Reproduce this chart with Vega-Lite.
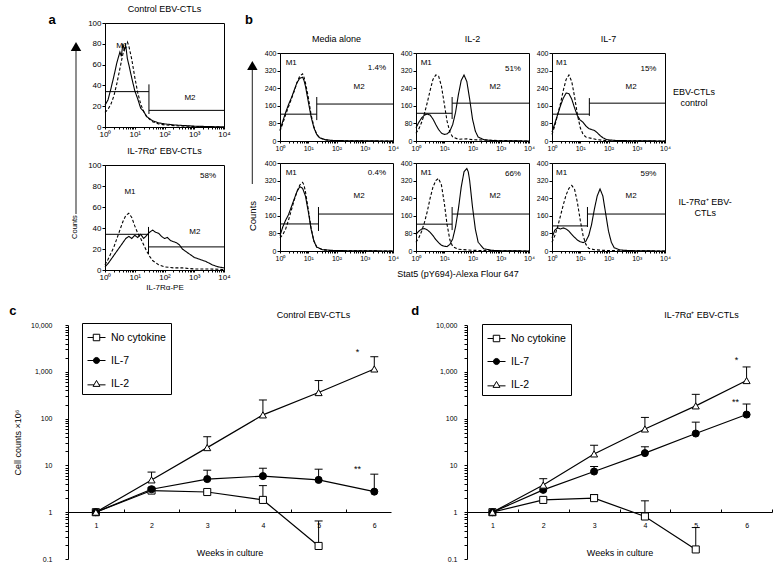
{
"$schema": "https://vega.github.io/schema/vega-lite/v6.json",
"padding": {"left": 9, "top": 4, "right": 0, "bottom": 0},
"bounds": "flush",
"spacing": 302,
"config": {
 "font": "Liberation Sans",
 "view": {"stroke": "black", "strokeWidth": 1},
 "axis": {"domainColor": "black", "tickColor": "black", "labelColor": "black", "titleColor": "black", "grid": false, "titleFontWeight": "normal", "domainWidth": 1, "tickWidth": 1},
 "title": {"fontWeight": "normal", "fontSize": 9, "color": "black"},
 "header": {"labelColor": "black", "titleColor": "black"},
 "text": {"color": "black"}
},
"datasets": {
 "a1": [
  {"k":"s","x":1,"y":21},{"k":"s","x":1.259,"y":26},{"k":"s","x":1.585,"y":37},{"k":"s","x":1.995,"y":49},{"k":"s","x":2.512,"y":62},{"k":"s","x":3.162,"y":72},{"k":"s","x":3.548,"y":68},{"k":"s","x":3.981,"y":80},{"k":"s","x":4.467,"y":74},{"k":"s","x":5.012,"y":78},{"k":"s","x":5.623,"y":66},{"k":"s","x":6.31,"y":60},{"k":"s","x":7.943,"y":47},{"k":"s","x":10,"y":35},{"k":"s","x":12.59,"y":27},{"k":"s","x":15.85,"y":18},{"k":"s","x":19.95,"y":15},{"k":"s","x":25.12,"y":10},{"k":"s","x":31.62,"y":8},{"k":"s","x":39.81,"y":6},{"k":"s","x":63.1,"y":4},{"k":"s","x":100,"y":3},{"k":"s","x":199.5,"y":2},{"k":"s","x":398.1,"y":1.5},{"k":"s","x":1000,"y":0.8},{"k":"s","x":3162,"y":0.4},{"k":"s","x":10000,"y":0},
  {"k":"d","x":1,"y":14},{"k":"d","x":1.259,"y":17},{"k":"d","x":1.585,"y":22},{"k":"d","x":1.995,"y":30},{"k":"d","x":2.512,"y":42},{"k":"d","x":3.162,"y":56},{"k":"d","x":3.981,"y":70},{"k":"d","x":5.012,"y":80},{"k":"d","x":5.623,"y":82},{"k":"d","x":6.31,"y":78},{"k":"d","x":7.943,"y":65},{"k":"d","x":10,"y":48},{"k":"d","x":12.59,"y":33},{"k":"d","x":15.85,"y":22},{"k":"d","x":19.95,"y":15},{"k":"d","x":25.12,"y":10},{"k":"d","x":39.81,"y":5},{"k":"d","x":63.1,"y":3},{"k":"d","x":100,"y":2},{"k":"d","x":316.2,"y":1},{"k":"d","x":1000,"y":0.5},{"k":"d","x":10000,"y":0},
  {"k":"h","x":1,"x2":30,"y":34},{"k":"h","x":30,"x2":10000,"y":16},{"k":"v","x":30,"y":12.5,"y2":41},
  {"k":"t","x":3.7,"y":78,"t":"M1"},{"k":"t","x":720,"y":28,"t":"M2"}
 ],
 "a2": [
  {"k":"s","x":1,"y":3},{"k":"s","x":1.259,"y":6},{"k":"s","x":1.585,"y":10},{"k":"s","x":1.995,"y":14},{"k":"s","x":2.512,"y":18},{"k":"s","x":3.162,"y":22},{"k":"s","x":3.981,"y":26},{"k":"s","x":5.012,"y":30},{"k":"s","x":6.31,"y":32},{"k":"s","x":7.943,"y":30},{"k":"s","x":10,"y":33},{"k":"s","x":12.59,"y":31},{"k":"s","x":15.85,"y":34},{"k":"s","x":19.95,"y":30},{"k":"s","x":25.12,"y":33},{"k":"s","x":31.62,"y":36},{"k":"s","x":39.81,"y":38},{"k":"s","x":50.12,"y":36},{"k":"s","x":63.1,"y":35},{"k":"s","x":79.43,"y":32},{"k":"s","x":100,"y":30},{"k":"s","x":125.9,"y":31},{"k":"s","x":158.5,"y":28},{"k":"s","x":199.5,"y":27},{"k":"s","x":251.2,"y":26},{"k":"s","x":316.2,"y":24},{"k":"s","x":398.1,"y":20},{"k":"s","x":501.2,"y":18},{"k":"s","x":631,"y":16},{"k":"s","x":794.3,"y":14},{"k":"s","x":1000,"y":12},{"k":"s","x":1585,"y":10},{"k":"s","x":2512,"y":8},{"k":"s","x":3981,"y":5},{"k":"s","x":6310,"y":3},{"k":"s","x":10000,"y":2},
  {"k":"d","x":1,"y":5},{"k":"d","x":1.259,"y":10},{"k":"d","x":1.585,"y":16},{"k":"d","x":1.995,"y":22},{"k":"d","x":2.512,"y":30},{"k":"d","x":3.162,"y":38},{"k":"d","x":3.981,"y":46},{"k":"d","x":5.012,"y":52},{"k":"d","x":6.31,"y":54},{"k":"d","x":7.943,"y":50},{"k":"d","x":10,"y":42},{"k":"d","x":12.59,"y":35},{"k":"d","x":15.85,"y":30},{"k":"d","x":19.95,"y":24},{"k":"d","x":25.12,"y":18},{"k":"d","x":31.62,"y":13},{"k":"d","x":39.81,"y":9},{"k":"d","x":63.1,"y":5},{"k":"d","x":100,"y":3},{"k":"d","x":199.5,"y":2},{"k":"d","x":398.1,"y":2},{"k":"d","x":1000,"y":1},{"k":"d","x":3162,"y":1},{"k":"d","x":10000,"y":0.5},
  {"k":"h","x":1,"x2":29,"y":34},{"k":"h","x":29,"x2":10000,"y":22},{"k":"v","x":29,"y":15,"y2":41},
  {"k":"t","x":6.9,"y":74,"t":"M1"},{"k":"t","x":1050,"y":36,"t":"M2"},{"k":"t","x":2900,"y":90,"t":"58%"}
 ],
 "b": [
  {"k":"s","r":1,"c":1,"x":1,"y":50},{"k":"s","r":1,"c":1,"x":1.259,"y":90},{"k":"s","r":1,"c":1,"x":1.585,"y":130},{"k":"s","r":1,"c":1,"x":1.995,"y":165},{"k":"s","r":1,"c":1,"x":2.512,"y":195},{"k":"s","r":1,"c":1,"x":3.162,"y":230},{"k":"s","r":1,"c":1,"x":3.981,"y":265},{"k":"s","r":1,"c":1,"x":5.012,"y":285},{"k":"s","r":1,"c":1,"x":6.31,"y":290},{"k":"s","r":1,"c":1,"x":7.079,"y":275},{"k":"s","r":1,"c":1,"x":7.943,"y":250},{"k":"s","r":1,"c":1,"x":10,"y":180},{"k":"s","r":1,"c":1,"x":12.59,"y":110},{"k":"s","r":1,"c":1,"x":15.85,"y":60},{"k":"s","r":1,"c":1,"x":19.95,"y":30},{"k":"s","r":1,"c":1,"x":25.12,"y":15},{"k":"s","r":1,"c":1,"x":39.81,"y":6},{"k":"s","r":1,"c":1,"x":63.1,"y":3},{"k":"s","r":1,"c":1,"x":100,"y":2},{"k":"s","r":1,"c":1,"x":316.2,"y":1},{"k":"s","r":1,"c":1,"x":10000,"y":0},
  {"k":"d","r":1,"c":1,"x":1,"y":45},{"k":"d","r":1,"c":1,"x":1.259,"y":80},{"k":"d","r":1,"c":1,"x":1.585,"y":120},{"k":"d","r":1,"c":1,"x":1.995,"y":155},{"k":"d","r":1,"c":1,"x":2.512,"y":190},{"k":"d","r":1,"c":1,"x":3.162,"y":225},{"k":"d","r":1,"c":1,"x":3.981,"y":265},{"k":"d","r":1,"c":1,"x":5.012,"y":295},{"k":"d","r":1,"c":1,"x":6.31,"y":305},{"k":"d","r":1,"c":1,"x":7.079,"y":290},{"k":"d","r":1,"c":1,"x":7.943,"y":265},{"k":"d","r":1,"c":1,"x":10,"y":200},{"k":"d","r":1,"c":1,"x":12.59,"y":120},{"k":"d","r":1,"c":1,"x":15.85,"y":65},{"k":"d","r":1,"c":1,"x":19.95,"y":30},{"k":"d","r":1,"c":1,"x":25.12,"y":14},{"k":"d","r":1,"c":1,"x":39.81,"y":5},{"k":"d","r":1,"c":1,"x":63.1,"y":2},{"k":"d","r":1,"c":1,"x":100,"y":1},{"k":"d","r":1,"c":1,"x":316.2,"y":0.5},{"k":"d","r":1,"c":1,"x":10000,"y":0},
  {"k":"h","r":1,"c":1,"x":1,"x2":20,"y":122},{"k":"h","r":1,"c":1,"x":20,"x2":10000,"y":168},{"k":"v","r":1,"c":1,"x":20,"y":95,"y2":200},
  {"k":"t","r":1,"c":1,"x":2.5,"y":355,"t":"M1"},{"k":"t","r":1,"c":1,"x":630,"y":245,"t":"M2"},{"k":"t","r":1,"c":1,"x":2700,"y":333,"t":"1.4%"},
  {"k":"s","r":1,"c":2,"x":1,"y":60},{"k":"s","r":1,"c":2,"x":1.259,"y":85},{"k":"s","r":1,"c":2,"x":1.585,"y":105},{"k":"s","r":1,"c":2,"x":1.995,"y":118},{"k":"s","r":1,"c":2,"x":2.512,"y":122},{"k":"s","r":1,"c":2,"x":3.162,"y":118},{"k":"s","r":1,"c":2,"x":3.981,"y":100},{"k":"s","r":1,"c":2,"x":5.012,"y":75},{"k":"s","r":1,"c":2,"x":6.31,"y":52},{"k":"s","r":1,"c":2,"x":7.943,"y":36},{"k":"s","r":1,"c":2,"x":10,"y":30},{"k":"s","r":1,"c":2,"x":12.59,"y":32},{"k":"s","r":1,"c":2,"x":15.85,"y":45},{"k":"s","r":1,"c":2,"x":19.95,"y":75},{"k":"s","r":1,"c":2,"x":25.12,"y":130},{"k":"s","r":1,"c":2,"x":31.62,"y":210},{"k":"s","r":1,"c":2,"x":39.81,"y":275},{"k":"s","r":1,"c":2,"x":50.12,"y":300},{"k":"s","r":1,"c":2,"x":63.1,"y":270},{"k":"s","r":1,"c":2,"x":79.43,"y":190},{"k":"s","r":1,"c":2,"x":100,"y":100},{"k":"s","r":1,"c":2,"x":125.9,"y":45},{"k":"s","r":1,"c":2,"x":158.5,"y":18},{"k":"s","r":1,"c":2,"x":251.2,"y":6},{"k":"s","r":1,"c":2,"x":501.2,"y":2},{"k":"s","r":1,"c":2,"x":1000,"y":1},{"k":"s","r":1,"c":2,"x":10000,"y":0},
  {"k":"d","r":1,"c":2,"x":1,"y":35},{"k":"d","r":1,"c":2,"x":1.259,"y":55},{"k":"d","r":1,"c":2,"x":1.585,"y":85},{"k":"d","r":1,"c":2,"x":1.995,"y":125},{"k":"d","r":1,"c":2,"x":2.512,"y":175},{"k":"d","r":1,"c":2,"x":3.162,"y":230},{"k":"d","r":1,"c":2,"x":3.981,"y":280},{"k":"d","r":1,"c":2,"x":5.012,"y":300},{"k":"d","r":1,"c":2,"x":6.31,"y":295},{"k":"d","r":1,"c":2,"x":7.943,"y":250},{"k":"d","r":1,"c":2,"x":10,"y":170},{"k":"d","r":1,"c":2,"x":12.59,"y":90},{"k":"d","r":1,"c":2,"x":15.85,"y":40},{"k":"d","r":1,"c":2,"x":19.95,"y":18},{"k":"d","r":1,"c":2,"x":31.62,"y":8},{"k":"d","r":1,"c":2,"x":63.1,"y":10},{"k":"d","r":1,"c":2,"x":100,"y":6},{"k":"d","r":1,"c":2,"x":316.2,"y":4},{"k":"d","r":1,"c":2,"x":1000,"y":2},{"k":"d","r":1,"c":2,"x":10000,"y":0},
  {"k":"h","r":1,"c":2,"x":1,"x2":19,"y":126},{"k":"h","r":1,"c":2,"x":19,"x2":10000,"y":172},{"k":"v","r":1,"c":2,"x":19,"y":100,"y2":200},
  {"k":"t","r":1,"c":2,"x":2.3,"y":355,"t":"M1"},{"k":"t","r":1,"c":2,"x":630,"y":245,"t":"M2"},{"k":"t","r":1,"c":2,"x":2700,"y":328,"t":"51%"},
  {"k":"s","r":1,"c":3,"x":1,"y":40},{"k":"s","r":1,"c":3,"x":1.259,"y":80},{"k":"s","r":1,"c":3,"x":1.585,"y":120},{"k":"s","r":1,"c":3,"x":1.995,"y":160},{"k":"s","r":1,"c":3,"x":2.512,"y":195},{"k":"s","r":1,"c":3,"x":3.162,"y":218},{"k":"s","r":1,"c":3,"x":3.981,"y":215},{"k":"s","r":1,"c":3,"x":5.012,"y":190},{"k":"s","r":1,"c":3,"x":6.31,"y":150},{"k":"s","r":1,"c":3,"x":7.943,"y":115},{"k":"s","r":1,"c":3,"x":10,"y":95},{"k":"s","r":1,"c":3,"x":12.59,"y":85},{"k":"s","r":1,"c":3,"x":15.85,"y":68},{"k":"s","r":1,"c":3,"x":19.95,"y":57},{"k":"s","r":1,"c":3,"x":25.12,"y":52},{"k":"s","r":1,"c":3,"x":31.62,"y":48},{"k":"s","r":1,"c":3,"x":39.81,"y":38},{"k":"s","r":1,"c":3,"x":50.12,"y":25},{"k":"s","r":1,"c":3,"x":63.1,"y":15},{"k":"s","r":1,"c":3,"x":79.43,"y":8},{"k":"s","r":1,"c":3,"x":100,"y":5},{"k":"s","r":1,"c":3,"x":199.5,"y":2},{"k":"s","r":1,"c":3,"x":1000,"y":1},{"k":"s","r":1,"c":3,"x":10000,"y":0},
  {"k":"d","r":1,"c":3,"x":1,"y":30},{"k":"d","r":1,"c":3,"x":1.259,"y":70},{"k":"d","r":1,"c":3,"x":1.585,"y":120},{"k":"d","r":1,"c":3,"x":1.995,"y":170},{"k":"d","r":1,"c":3,"x":2.512,"y":230},{"k":"d","r":1,"c":3,"x":3.162,"y":280},{"k":"d","r":1,"c":3,"x":3.981,"y":300},{"k":"d","r":1,"c":3,"x":5.012,"y":270},{"k":"d","r":1,"c":3,"x":6.31,"y":200},{"k":"d","r":1,"c":3,"x":7.943,"y":120},{"k":"d","r":1,"c":3,"x":10,"y":60},{"k":"d","r":1,"c":3,"x":12.59,"y":30},{"k":"d","r":1,"c":3,"x":15.85,"y":18},{"k":"d","r":1,"c":3,"x":25.12,"y":12},{"k":"d","r":1,"c":3,"x":39.81,"y":6},{"k":"d","r":1,"c":3,"x":63.1,"y":3},{"k":"d","r":1,"c":3,"x":100,"y":1},{"k":"d","r":1,"c":3,"x":10000,"y":0},
  {"k":"h","r":1,"c":3,"x":1,"x2":21,"y":122},{"k":"h","r":1,"c":3,"x":21,"x2":10000,"y":172},{"k":"v","r":1,"c":3,"x":21,"y":114,"y2":195},
  {"k":"t","r":1,"c":3,"x":2.2,"y":355,"t":"M1"},{"k":"t","r":1,"c":3,"x":630,"y":245,"t":"M2"},{"k":"t","r":1,"c":3,"x":2600,"y":328,"t":"15%"},
  {"k":"s","r":2,"c":1,"x":1,"y":70},{"k":"s","r":2,"c":1,"x":1.259,"y":110},{"k":"s","r":2,"c":1,"x":1.585,"y":140},{"k":"s","r":2,"c":1,"x":1.995,"y":165},{"k":"s","r":2,"c":1,"x":2.512,"y":200},{"k":"s","r":2,"c":1,"x":3.162,"y":235},{"k":"s","r":2,"c":1,"x":3.981,"y":270},{"k":"s","r":2,"c":1,"x":5.012,"y":292},{"k":"s","r":2,"c":1,"x":6.31,"y":285},{"k":"s","r":2,"c":1,"x":7.943,"y":250},{"k":"s","r":2,"c":1,"x":10,"y":180},{"k":"s","r":2,"c":1,"x":12.59,"y":100},{"k":"s","r":2,"c":1,"x":15.85,"y":45},{"k":"s","r":2,"c":1,"x":19.95,"y":18},{"k":"s","r":2,"c":1,"x":31.62,"y":6},{"k":"s","r":2,"c":1,"x":63.1,"y":3},{"k":"s","r":2,"c":1,"x":100,"y":2},{"k":"s","r":2,"c":1,"x":316.2,"y":1},{"k":"s","r":2,"c":1,"x":10000,"y":0},
  {"k":"d","r":2,"c":1,"x":1,"y":60},{"k":"d","r":2,"c":1,"x":1.259,"y":75},{"k":"d","r":2,"c":1,"x":1.585,"y":100},{"k":"d","r":2,"c":1,"x":1.995,"y":140},{"k":"d","r":2,"c":1,"x":2.512,"y":185},{"k":"d","r":2,"c":1,"x":3.162,"y":230},{"k":"d","r":2,"c":1,"x":3.981,"y":270},{"k":"d","r":2,"c":1,"x":5.012,"y":300},{"k":"d","r":2,"c":1,"x":6.31,"y":312},{"k":"d","r":2,"c":1,"x":7.079,"y":300},{"k":"d","r":2,"c":1,"x":7.943,"y":270},{"k":"d","r":2,"c":1,"x":10,"y":190},{"k":"d","r":2,"c":1,"x":12.59,"y":105},{"k":"d","r":2,"c":1,"x":15.85,"y":45},{"k":"d","r":2,"c":1,"x":19.95,"y":18},{"k":"d","r":2,"c":1,"x":31.62,"y":6},{"k":"d","r":2,"c":1,"x":63.1,"y":2},{"k":"d","r":2,"c":1,"x":316.2,"y":1},{"k":"d","r":2,"c":1,"x":10000,"y":0},
  {"k":"h","r":2,"c":1,"x":1,"x2":23,"y":123},{"k":"h","r":2,"c":1,"x":23,"x2":10000,"y":168},{"k":"v","r":2,"c":1,"x":23,"y":91,"y2":200},
  {"k":"t","r":2,"c":1,"x":2.5,"y":355,"t":"M1"},{"k":"t","r":2,"c":1,"x":630,"y":248,"t":"M2"},{"k":"t","r":2,"c":1,"x":2700,"y":355,"t":"0.4%"},
  {"k":"s","r":2,"c":2,"x":1,"y":75},{"k":"s","r":2,"c":2,"x":1.259,"y":90},{"k":"s","r":2,"c":2,"x":1.585,"y":100},{"k":"s","r":2,"c":2,"x":1.995,"y":102},{"k":"s","r":2,"c":2,"x":2.512,"y":96},{"k":"s","r":2,"c":2,"x":3.162,"y":85},{"k":"s","r":2,"c":2,"x":3.981,"y":70},{"k":"s","r":2,"c":2,"x":5.012,"y":52},{"k":"s","r":2,"c":2,"x":6.31,"y":38},{"k":"s","r":2,"c":2,"x":7.943,"y":26},{"k":"s","r":2,"c":2,"x":10,"y":22},{"k":"s","r":2,"c":2,"x":12.59,"y":20},{"k":"s","r":2,"c":2,"x":15.85,"y":30},{"k":"s","r":2,"c":2,"x":19.95,"y":55},{"k":"s","r":2,"c":2,"x":25.12,"y":110},{"k":"s","r":2,"c":2,"x":31.62,"y":190},{"k":"s","r":2,"c":2,"x":39.81,"y":290},{"k":"s","r":2,"c":2,"x":50.12,"y":360},{"k":"s","r":2,"c":2,"x":63.1,"y":375},{"k":"s","r":2,"c":2,"x":70.79,"y":360},{"k":"s","r":2,"c":2,"x":79.43,"y":320},{"k":"s","r":2,"c":2,"x":100,"y":200},{"k":"s","r":2,"c":2,"x":125.9,"y":100},{"k":"s","r":2,"c":2,"x":158.5,"y":40},{"k":"s","r":2,"c":2,"x":251.2,"y":10},{"k":"s","r":2,"c":2,"x":501.2,"y":3},{"k":"s","r":2,"c":2,"x":1000,"y":1},{"k":"s","r":2,"c":2,"x":10000,"y":0},
  {"k":"d","r":2,"c":2,"x":1,"y":40},{"k":"d","r":2,"c":2,"x":1.259,"y":60},{"k":"d","r":2,"c":2,"x":1.585,"y":90},{"k":"d","r":2,"c":2,"x":1.995,"y":130},{"k":"d","r":2,"c":2,"x":2.512,"y":180},{"k":"d","r":2,"c":2,"x":3.162,"y":240},{"k":"d","r":2,"c":2,"x":3.981,"y":290},{"k":"d","r":2,"c":2,"x":5.012,"y":320},{"k":"d","r":2,"c":2,"x":6.31,"y":330},{"k":"d","r":2,"c":2,"x":7.943,"y":300},{"k":"d","r":2,"c":2,"x":10,"y":220},{"k":"d","r":2,"c":2,"x":12.59,"y":120},{"k":"d","r":2,"c":2,"x":15.85,"y":50},{"k":"d","r":2,"c":2,"x":19.95,"y":20},{"k":"d","r":2,"c":2,"x":31.62,"y":8},{"k":"d","r":2,"c":2,"x":63.1,"y":5},{"k":"d","r":2,"c":2,"x":100,"y":3},{"k":"d","r":2,"c":2,"x":316.2,"y":2},{"k":"d","r":2,"c":2,"x":10000,"y":0},
  {"k":"h","r":2,"c":2,"x":1,"x2":19,"y":122},{"k":"h","r":2,"c":2,"x":19,"x2":10000,"y":168},{"k":"v","r":2,"c":2,"x":19,"y":95,"y2":200},
  {"k":"t","r":2,"c":2,"x":2.3,"y":355,"t":"M1"},{"k":"t","r":2,"c":2,"x":630,"y":248,"t":"M2"},{"k":"t","r":2,"c":2,"x":2700,"y":352,"t":"66%"},
  {"k":"s","r":2,"c":3,"x":1,"y":60},{"k":"s","r":2,"c":3,"x":1.259,"y":95},{"k":"s","r":2,"c":3,"x":1.585,"y":105},{"k":"s","r":2,"c":3,"x":1.995,"y":100},{"k":"s","r":2,"c":3,"x":2.512,"y":105},{"k":"s","r":2,"c":3,"x":3.162,"y":100},{"k":"s","r":2,"c":3,"x":3.981,"y":90},{"k":"s","r":2,"c":3,"x":5.012,"y":75},{"k":"s","r":2,"c":3,"x":6.31,"y":62},{"k":"s","r":2,"c":3,"x":7.943,"y":50},{"k":"s","r":2,"c":3,"x":10,"y":42},{"k":"s","r":2,"c":3,"x":12.59,"y":38},{"k":"s","r":2,"c":3,"x":15.85,"y":45},{"k":"s","r":2,"c":3,"x":19.95,"y":70},{"k":"s","r":2,"c":3,"x":25.12,"y":120},{"k":"s","r":2,"c":3,"x":31.62,"y":190},{"k":"s","r":2,"c":3,"x":39.81,"y":250},{"k":"s","r":2,"c":3,"x":50.12,"y":282},{"k":"s","r":2,"c":3,"x":63.1,"y":250},{"k":"s","r":2,"c":3,"x":79.43,"y":170},{"k":"s","r":2,"c":3,"x":100,"y":90},{"k":"s","r":2,"c":3,"x":125.9,"y":40},{"k":"s","r":2,"c":3,"x":158.5,"y":15},{"k":"s","r":2,"c":3,"x":251.2,"y":5},{"k":"s","r":2,"c":3,"x":501.2,"y":2},{"k":"s","r":2,"c":3,"x":1000,"y":1},{"k":"s","r":2,"c":3,"x":10000,"y":0},
  {"k":"d","r":2,"c":3,"x":1,"y":40},{"k":"d","r":2,"c":3,"x":1.259,"y":70},{"k":"d","r":2,"c":3,"x":1.585,"y":110},{"k":"d","r":2,"c":3,"x":1.995,"y":160},{"k":"d","r":2,"c":3,"x":2.512,"y":210},{"k":"d","r":2,"c":3,"x":3.162,"y":255},{"k":"d","r":2,"c":3,"x":3.981,"y":285},{"k":"d","r":2,"c":3,"x":5.012,"y":298},{"k":"d","r":2,"c":3,"x":6.31,"y":280},{"k":"d","r":2,"c":3,"x":7.943,"y":220},{"k":"d","r":2,"c":3,"x":10,"y":140},{"k":"d","r":2,"c":3,"x":12.59,"y":70},{"k":"d","r":2,"c":3,"x":15.85,"y":30},{"k":"d","r":2,"c":3,"x":19.95,"y":12},{"k":"d","r":2,"c":3,"x":31.62,"y":6},{"k":"d","r":2,"c":3,"x":63.1,"y":3},{"k":"d","r":2,"c":3,"x":100,"y":2},{"k":"d","r":2,"c":3,"x":316.2,"y":1},{"k":"d","r":2,"c":3,"x":10000,"y":0},
  {"k":"h","r":2,"c":3,"x":1,"x2":18,"y":114},{"k":"h","r":2,"c":3,"x":18,"x2":10000,"y":168},{"k":"v","r":2,"c":3,"x":18,"y":109,"y2":200},
  {"k":"t","r":2,"c":3,"x":2.2,"y":355,"t":"M1"},{"k":"t","r":2,"c":3,"x":630,"y":248,"t":"M2"},{"k":"t","r":2,"c":3,"x":2600,"y":352,"t":"59%"},
  {"k":"ar","r":2,"c":1,"x":0.105,"y":305,"y2":827},{"k":"tri","r":2,"c":1,"x":0.105,"y":843},{"k":"ct","r":2,"c":1,"x":0.11,"y":159,"t":"Counts"},{"k":"L","r":1,"c":1,"x":0.08,"y":550,"t":"b"}
 ],
 "c": [
  {"k":"p","g":"No cytokine","w":1,"v":1},{"k":"p","g":"No cytokine","w":2,"v":2.9},{"k":"p","g":"No cytokine","w":3,"v":2.7},{"k":"p","g":"No cytokine","w":4,"v":1.83,"e":3.7},{"k":"p","g":"No cytokine","w":5,"v":0.19,"e":0.65},
  {"k":"p","g":"IL-7","w":1,"v":1},{"k":"p","g":"IL-7","w":2,"v":3.1},{"k":"p","g":"IL-7","w":3,"v":5.1,"e":7.9},{"k":"p","g":"IL-7","w":4,"v":5.9,"e":8.7},{"k":"p","g":"IL-7","w":5,"v":4.9,"e":8.3},{"k":"p","g":"IL-7","w":6,"v":2.75,"e":6.5},
  {"k":"p","g":"IL-2","w":1,"v":1},{"k":"p","g":"IL-2","w":2,"v":4.9,"e":7.2},{"k":"p","g":"IL-2","w":3,"v":24,"e":41},{"k":"p","g":"IL-2","w":4,"v":120,"e":250},{"k":"p","g":"IL-2","w":5,"v":360,"e":650},{"k":"p","g":"IL-2","w":6,"v":1150,"e":2100},
  {"k":"t","w":5.7,"v":2600,"t":"*"},{"k":"t","w":5.7,"v":8.3,"t":"**"},{"k":"L","w":-0.49,"v":19700,"t":"c"}
 ],
 "d": [
  {"k":"p","g":"No cytokine","w":1,"v":1},{"k":"p","g":"No cytokine","w":2,"v":1.83},{"k":"p","g":"No cytokine","w":3,"v":2.0,"e":2.4},{"k":"p","g":"No cytokine","w":4,"v":0.81,"e":1.75},{"k":"p","g":"No cytokine","w":5,"v":0.16,"e":0.47},
  {"k":"p","g":"IL-7","w":1,"v":1},{"k":"p","g":"IL-7","w":2,"v":3.0},{"k":"p","g":"IL-7","w":3,"v":7.4,"e":9.5},{"k":"p","g":"IL-7","w":4,"v":18.3,"e":25},{"k":"p","g":"IL-7","w":5,"v":48,"e":84},{"k":"p","g":"IL-7","w":6,"v":122,"e":205},
  {"k":"p","g":"IL-2","w":1,"v":1},{"k":"p","g":"IL-2","w":2,"v":3.8,"e":5.2},{"k":"p","g":"IL-2","w":3,"v":17.6,"e":27},{"k":"p","g":"IL-2","w":4,"v":60,"e":106},{"k":"p","g":"IL-2","w":5,"v":187,"e":330},{"k":"p","g":"IL-2","w":6,"v":650,"e":1270},
  {"k":"t","w":5.8,"v":1750,"t":"*"},{"k":"t","w":5.78,"v":224,"t":"**"},{"k":"L","w":-0.52,"v":19700,"t":"d"}
 ]
},
"vconcat": [
 {"bounds": "flush", "spacing": 17, "hconcat": [
  {"width": 20, "height": 247, "view": {"stroke": null},
   "data": {"values": [{"k":"l","x":0.4,"y":0.227,"y2":0.887},{"k":"tri","x":0.4,"y":0.905},{"k":"txt","x":0.35,"y":0.174,"t":"Counts"},{"k":"L","x":-0.8,"y":1.012,"t":"a"}]},
   "encoding": {"x": {"field":"x","type":"quantitative","scale":{"domain":[0,1],"nice":false,"zero":false},"axis":null},
                "y": {"field":"y","type":"quantitative","scale":{"domain":[0,1],"nice":false,"zero":false},"axis":null}},
   "layer": [
    {"transform":[{"filter":"datum.k=='l'"}],"mark":{"type":"rule","color":"#444","strokeWidth":1.2},"encoding":{"y2":{"field":"y2"}}},
    {"transform":[{"filter":"datum.k=='tri'"}],"mark":{"type":"point","shape":"triangle-up","filled":true,"color":"black","size":110,"opacity":1}},
    {"transform":[{"filter":"datum.k=='txt'"}],"mark":{"type":"text","angle":270,"fontSize":7.5,"baseline":"middle","align":"center"},"encoding":{"text":{"field":"t"}}},
    {"transform":[{"filter":"datum.k=='L'"}],"mark":{"type":"text","fontSize":13,"fontWeight":"bold","baseline":"middle"},"encoding":{"text":{"field":"t"}}}
   ]},
  {"bounds": "flush", "spacing": 175, "hconcat": [
   {"bounds": "flush", "spacing": 38, "vconcat": [
    {"width": 119, "height": 104,
     "title": {"text": "Control EBV-CTLs", "fontSize": 9, "offset": 5, "frame": "group"},
     "data": {"name": "a1"},
     "encoding": {
      "x": {"field":"x","type":"quantitative","scale":{"type":"log","domain":[1,10000],"nice":false},
            "axis":{"values":[1,2,3,4,5,6,7,8,9,10,20,30,40,50,60,70,80,90,100,200,300,400,500,600,700,800,900,1000,2000,3000,4000,5000,6000,7000,8000,9000,10000],"labelExpr":"indexof([1,10,100,1000,10000], datum.value) >= 0 ? '10' + ['⁰','¹','²','³','⁴'][round(log(datum.value) / LN10)] : ''","tickSize":2,"labelFontSize":8,"labelPadding":1,"labelOverlap":false,"labelFlush":false,"title":null}},
      "y": {"field":"y","type":"quantitative","scale":{"domain":[0,100],"nice":false,"zero":false},
            "axis":{"values":[0,20,40,60,80,100],"tickSize":3,"labelFontSize":8,"labelPadding":1,"labelFlush":false,"labelOverlap":false,"title":null}}
     },
     "layer": [
      {"transform":[{"filter":"datum.k=='s'||datum.k=='d'"}],"mark":{"type":"line","color":"black","strokeWidth":1.1},"encoding":{"strokeDash":{"field":"k","type":"nominal","scale":{"domain":["s","d"],"range":[[1,0],[3,2]]},"legend":null}}},
      {"transform":[{"filter":"datum.k=='h'"}],"mark":{"type":"rule","color":"black","strokeWidth":1},"encoding":{"x2":{"field":"x2"}}},
      {"transform":[{"filter":"datum.k=='v'"}],"mark":{"type":"rule","color":"black","strokeWidth":1},"encoding":{"y2":{"field":"y2"}}},
      {"transform":[{"filter":"datum.k=='t'"}],"mark":{"type":"text","fontSize":8,"baseline":"middle"},"encoding":{"text":{"field":"t"}}}
     ]},
    {"width": 119, "height": 105,
     "title": {"text": "IL-7Rα⁺ EBV-CTLs", "fontSize": 9, "offset": 5, "frame": "group"},
     "data": {"name": "a2"},
     "encoding": {
      "x": {"field":"x","type":"quantitative","scale":{"type":"log","domain":[1,10000],"nice":false},
            "axis":{"values":[1,2,3,4,5,6,7,8,9,10,20,30,40,50,60,70,80,90,100,200,300,400,500,600,700,800,900,1000,2000,3000,4000,5000,6000,7000,8000,9000,10000],"labelExpr":"indexof([1,10,100,1000,10000], datum.value) >= 0 ? '10' + ['⁰','¹','²','³','⁴'][round(log(datum.value) / LN10)] : ''","tickSize":2,"labelFontSize":8,"labelPadding":1,"labelOverlap":false,"labelFlush":false,"title":"IL-7Rα-PE","titleFontSize":8,"titlePadding":2}},
      "y": {"field":"y","type":"quantitative","scale":{"domain":[0,100],"nice":false,"zero":false},
            "axis":{"values":[0,20,40,60,80,100],"tickSize":3,"labelFontSize":8,"labelPadding":1,"labelFlush":false,"labelOverlap":false,"title":null}}
     },
     "layer": [
      {"transform":[{"filter":"datum.k=='s'||datum.k=='d'"}],"mark":{"type":"line","color":"black","strokeWidth":1.1},"encoding":{"strokeDash":{"field":"k","type":"nominal","scale":{"domain":["s","d"],"range":[[1,0],[3,2]]},"legend":null}}},
      {"transform":[{"filter":"datum.k=='h'"}],"mark":{"type":"rule","color":"black","strokeWidth":1},"encoding":{"x2":{"field":"x2"}}},
      {"transform":[{"filter":"datum.k=='v'"}],"mark":{"type":"rule","color":"black","strokeWidth":1},"encoding":{"y2":{"field":"y2"}}},
      {"transform":[{"filter":"datum.k=='t'"}],"mark":{"type":"text","fontSize":8,"baseline":"middle"},"encoding":{"text":{"field":"t"}}}
     ]}
   ]},
   {"bounds": "flush", "spacing": 10, "vconcat": [
    {"width": 10, "height": 20, "view": {"stroke": null}, "data": {"values": []}, "mark": "point"},
    {"data": {"name": "b"},
     "bounds": "flush",
     "spacing": {"row": 22, "column": 23},
     "facet": {
      "row": {"field": "r", "type": "ordinal", "title": null,
              "header": {"labelOrient": "right", "labelAngle": 0, "labelAlign": "center", "labelBaseline": "bottom", "labelPadding": -13, "labelFontSize": 9, "labelLineHeight": 11,
                         "labelExpr": "datum.value == 1 ? ['EBV-CTLs', 'control'] : ['IL-7Rα⁺ EBV-', 'CTLs']"}},
      "column": {"field": "c", "type": "ordinal", "title": "Stat5 (pY694)-Alexa Flour 647",
                 "header": {"titleOrient": "bottom", "titleFontSize": 9, "titleFontWeight": "normal", "titlePadding": 9, "labelOrient": "top", "labelFontSize": 9, "labelPadding": 9,
                            "labelExpr": "datum.value == 1 ? 'Media alone' : datum.value == 2 ? 'IL-2' : 'IL-7'"}}
     },
     "resolve": {"axis": {"x": "independent", "y": "independent"}},
     "spec": {
      "width": 113, "height": 88,
      "encoding": {
       "x": {"field":"x","type":"quantitative","scale":{"type":"log","domain":[1,10000],"nice":false},
             "axis":{"values":[1,2,3,4,5,6,7,8,9,10,20,30,40,50,60,70,80,90,100,200,300,400,500,600,700,800,900,1000,2000,3000,4000,5000,6000,7000,8000,9000,10000],"labelExpr":"indexof([1,10,100,1000,10000], datum.value) >= 0 ? '10' + ['⁰','¹','²','³','⁴'][round(log(datum.value) / LN10)] : ''","tickSize":2,"labelFontSize":7,"labelPadding":1,"labelOverlap":false,"labelFlush":false,"title":null}},
       "y": {"field":"y","type":"quantitative","scale":{"domain":[0,400],"nice":false,"zero":false},
             "axis":{"values":[0,80,160,240,320,400],"tickSize":3,"labelFontSize":7,"labelPadding":1,"labelFlush":false,"labelOverlap":false,"title":null}}
      },
      "layer": [
       {"transform":[{"filter":"datum.k=='s'||datum.k=='d'"}],"mark":{"type":"line","color":"black","strokeWidth":1.1},"encoding":{"strokeDash":{"field":"k","type":"nominal","scale":{"domain":["s","d"],"range":[[1,0],[3,2]]},"legend":null}}},
       {"transform":[{"filter":"datum.k=='h'"}],"mark":{"type":"rule","color":"black","strokeWidth":1},"encoding":{"x2":{"field":"x2"}}},
       {"transform":[{"filter":"datum.k=='v'"}],"mark":{"type":"rule","color":"black","strokeWidth":1},"encoding":{"y2":{"field":"y2"}}},
       {"transform":[{"filter":"datum.k=='t'"}],"mark":{"type":"text","fontSize":8,"baseline":"middle"},"encoding":{"text":{"field":"t"}}},
       {"transform":[{"filter":"datum.k=='ar'"}],"mark":{"type":"rule","color":"#444","strokeWidth":1.2},"encoding":{"y2":{"field":"y2"}}},
       {"transform":[{"filter":"datum.k=='tri'"}],"mark":{"type":"point","shape":"triangle-up","filled":true,"color":"black","size":110,"opacity":1}},
       {"transform":[{"filter":"datum.k=='ct'"}],"mark":{"type":"text","angle":270,"fontSize":9.5,"baseline":"middle","align":"center"},"encoding":{"text":{"field":"t"}}},
       {"transform":[{"filter":"datum.k=='L'"}],"mark":{"type":"text","fontSize":13,"fontWeight":"bold","baseline":"middle"},"encoding":{"text":{"field":"t"}}}
      ]
     }
    }
   ]}
  ]}
 ]},
 {"bounds": "flush", "spacing": 76, "resolve": {"scale": {"shape": "independent", "fill": "independent", "stroke": "independent"}}, "hconcat": [
  {"width": 323, "height": 234, "view": {"stroke": null},
   "title": {"text": "Control EBV-CTLs", "fontSize": 9, "anchor": "middle", "frame": "group", "dx": 84, "offset": -15},
   "data": {"name": "c"},
   "encoding": {
    "x": {"field":"w","type":"quantitative","scale":{"domain":[0.5,6.3],"nice":false,"zero":false},
          "axis":{"orient":"bottom","offset":-47,"values":[1,1.5,2,2.5,3,3.5,4,4.5,5,5.5,6],"labelExpr":"datum.value % 1 == 0 ? format(datum.value, 'd') : ''","tickSize":-3,"tickOpacity":{"condition":{"test":"datum.value % 1 == 0","value":0},"value":1},"labelFontSize":7,"labelPadding":12,"labelFlush":false,"labelOverlap":false,"title":"Weeks in culture","titleFontSize":9,"titlePadding":20}},
    "y": {"field":"v","type":"quantitative","scale":{"type":"log","domain":[0.1,10000],"nice":false},
          "axis":{"values":[0.1,0.2,0.3,0.4,0.5,0.6,0.7,0.8,0.9,1,2,3,4,5,6,7,8,9,10,20,30,40,50,60,70,80,90,100,200,300,400,500,600,700,800,900,1000,2000,3000,4000,5000,6000,7000,8000,9000,10000],"labelExpr":"indexof([0.1,1,10,100,1000,10000], datum.value) >= 0 ? format(datum.value, ',') : ''","tickSize":3,"labelFontSize":7,"labelPadding":13,"labelFlush":false,"labelOverlap":false,"title":"Cell counts ×10⁶","titleFontSize":9,"titlePadding":8}}
   },
   "layer": [
    {"transform":[{"filter":"datum.k=='p'"}],"mark":{"type":"line","color":"black","strokeWidth":1.2},"encoding":{"detail":{"field":"g"}}},
    {"transform":[{"filter":"datum.k=='p' && isValid(datum.e)"}],"mark":{"type":"rule","color":"black","strokeWidth":1},"encoding":{"y2":{"field":"e"}}},
    {"transform":[{"filter":"datum.k=='p' && isValid(datum.e)"}],"mark":{"type":"tick","orient":"horizontal","color":"black","size":8,"thickness":1,"opacity":1},"encoding":{"y":{"field":"e","type":"quantitative"}}},
    {"transform":[{"filter":"datum.k=='p'"}],"mark":{"type":"point","filled":true,"stroke":"black","strokeWidth":1,"size":50,"opacity":1},
     "encoding":{
      "fill":{"condition":{"test":"datum.g == 'IL-7'","value":"black"},"value":"white"},
      "shape":{"condition":[{"test":"datum.g == 'No cytokine'","value":"square"},{"test":"datum.g == 'IL-7'","value":"circle"}],"value":"triangle-up"}
     }},
    {"transform":[{"filter":"datum.k=='legend'"}],"mark":{"type":"point","filled":false,"strokeWidth":1,"opacity":1},
     "encoding":{
      "shape":{"field":"g","type":"nominal","scale":{"domain":["No cytokine","IL-7","IL-2"],"range":["M-1,0H-0.36M0.36,0H1M-0.36,-0.36H0.36V0.36H-0.36Z","M-1,0H1M-0.34,0A0.34,0.34 0 1,0 0.34,0A0.34,0.34 0 1,0 -0.34,0Z","M-1,0.15H-0.28M0.28,0.15H1M-0.38,0.32L0,-0.34L0.38,0.32Z"]},
               "legend":{"title":null,"orient":"none","legendX":14,"legendY":-2,"strokeColor":"black","fillColor":"white","padding":5,"labelFontSize":10.5,"labelColor":"black","labelOffset":5,"symbolSize":324,"symbolStrokeWidth":1,"symbolOpacity":1,"rowPadding":8}},
      "fill":{"field":"g","type":"nominal","scale":{"domain":["No cytokine","IL-7","IL-2"],"range":["white","black","white"]},
               "legend":{"title":null,"orient":"none","legendX":14,"legendY":-2,"strokeColor":"black","fillColor":"white","padding":5,"labelFontSize":10.5,"labelColor":"black","labelOffset":5,"symbolSize":324,"symbolStrokeWidth":1,"symbolOpacity":1,"rowPadding":8}},
      "stroke":{"field":"g","type":"nominal","scale":{"domain":["No cytokine","IL-7","IL-2"],"range":["black","black","black"]},
               "legend":{"title":null,"orient":"none","legendX":14,"legendY":-2,"strokeColor":"black","fillColor":"white","padding":5,"labelFontSize":10.5,"labelColor":"black","labelOffset":5,"symbolSize":324,"symbolStrokeWidth":1,"symbolOpacity":1,"rowPadding":8}}
     }},
    {"transform":[{"filter":"datum.k=='t'"}],"mark":{"type":"text","fontSize":9,"baseline":"middle"},"encoding":{"text":{"field":"t"}}},
    {"transform":[{"filter":"datum.k=='L'"}],"mark":{"type":"text","fontSize":13,"fontWeight":"bold","baseline":"middle"},"encoding":{"text":{"field":"t"}}}
   ]},
  {"width": 305, "height": 234, "view": {"stroke": null},
   "title": {"text": "IL-7Rα⁺ EBV-CTLs", "fontSize": 9, "anchor": "middle", "frame": "group", "dx": 82, "offset": -15},
   "data": {"name": "d"},
   "encoding": {
    "x": {"field":"w","type":"quantitative","scale":{"domain":[0.5,6.5],"nice":false,"zero":false},
          "axis":{"orient":"bottom","offset":-47,"values":[1,1.5,2,2.5,3,3.5,4,4.5,5,5.5,6,6.5],"labelExpr":"datum.value % 1 == 0 ? format(datum.value, 'd') : ''","tickSize":-3,"tickOpacity":{"condition":{"test":"datum.value % 1 == 0","value":0},"value":1},"labelFontSize":7,"labelPadding":12,"labelFlush":false,"labelOverlap":false,"title":"Weeks in culture","titleFontSize":9,"titlePadding":20}},
    "y": {"field":"v","type":"quantitative","scale":{"type":"log","domain":[0.1,10000],"nice":false},
          "axis":{"values":[0.1,0.2,0.3,0.4,0.5,0.6,0.7,0.8,0.9,1,2,3,4,5,6,7,8,9,10,20,30,40,50,60,70,80,90,100,200,300,400,500,600,700,800,900,1000,2000,3000,4000,5000,6000,7000,8000,9000,10000],"labelExpr":"indexof([0.1,1,10,100,1000,10000], datum.value) >= 0 ? format(datum.value, ',') : ''","tickSize":3,"labelFontSize":7,"labelPadding":7,"labelFlush":false,"labelOverlap":false,"title":null}}
   },
   "layer": [
    {"transform":[{"filter":"datum.k=='p'"}],"mark":{"type":"line","color":"black","strokeWidth":1.2},"encoding":{"detail":{"field":"g"}}},
    {"transform":[{"filter":"datum.k=='p' && isValid(datum.e)"}],"mark":{"type":"rule","color":"black","strokeWidth":1},"encoding":{"y2":{"field":"e"}}},
    {"transform":[{"filter":"datum.k=='p' && isValid(datum.e)"}],"mark":{"type":"tick","orient":"horizontal","color":"black","size":8,"thickness":1,"opacity":1},"encoding":{"y":{"field":"e","type":"quantitative"}}},
    {"transform":[{"filter":"datum.k=='p'"}],"mark":{"type":"point","filled":true,"stroke":"black","strokeWidth":1,"size":50,"opacity":1},
     "encoding":{
      "fill":{"condition":{"test":"datum.g == 'IL-7'","value":"black"},"value":"white"},
      "shape":{"condition":[{"test":"datum.g == 'No cytokine'","value":"square"},{"test":"datum.g == 'IL-7'","value":"circle"}],"value":"triangle-up"}
     }},
    {"transform":[{"filter":"datum.k=='legend'"}],"mark":{"type":"point","filled":false,"strokeWidth":1,"opacity":1},
     "encoding":{
      "shape":{"field":"g","type":"nominal","scale":{"domain":["No cytokine","IL-7","IL-2"],"range":["M-1,0H-0.36M0.36,0H1M-0.36,-0.36H0.36V0.36H-0.36Z","M-1,0H1M-0.34,0A0.34,0.34 0 1,0 0.34,0A0.34,0.34 0 1,0 -0.34,0Z","M-1,0.15H-0.28M0.28,0.15H1M-0.38,0.32L0,-0.34L0.38,0.32Z"]},
               "legend":{"title":null,"orient":"none","legendX":15,"legendY":-1,"strokeColor":"black","fillColor":"white","padding":5,"labelFontSize":10.5,"labelColor":"black","labelOffset":5,"symbolSize":324,"symbolStrokeWidth":1,"symbolOpacity":1,"rowPadding":8}},
      "fill":{"field":"g","type":"nominal","scale":{"domain":["No cytokine","IL-7","IL-2"],"range":["white","black","white"]},
               "legend":{"title":null,"orient":"none","legendX":15,"legendY":-1,"strokeColor":"black","fillColor":"white","padding":5,"labelFontSize":10.5,"labelColor":"black","labelOffset":5,"symbolSize":324,"symbolStrokeWidth":1,"symbolOpacity":1,"rowPadding":8}},
      "stroke":{"field":"g","type":"nominal","scale":{"domain":["No cytokine","IL-7","IL-2"],"range":["black","black","black"]},
               "legend":{"title":null,"orient":"none","legendX":15,"legendY":-1,"strokeColor":"black","fillColor":"white","padding":5,"labelFontSize":10.5,"labelColor":"black","labelOffset":5,"symbolSize":324,"symbolStrokeWidth":1,"symbolOpacity":1,"rowPadding":8}}
     }},
    {"transform":[{"filter":"datum.k=='t'"}],"mark":{"type":"text","fontSize":9,"baseline":"middle"},"encoding":{"text":{"field":"t"}}},
    {"transform":[{"filter":"datum.k=='L'"}],"mark":{"type":"text","fontSize":13,"fontWeight":"bold","baseline":"middle"},"encoding":{"text":{"field":"t"}}}
   ]}
 ]}
]
}
